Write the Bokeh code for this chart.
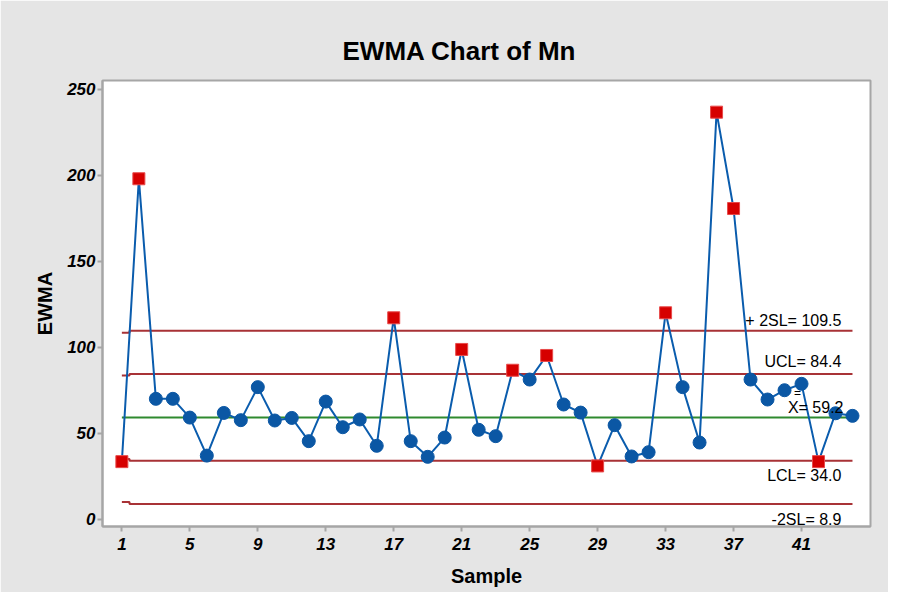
from bokeh.plotting import figure
from bokeh.models import FixedTicker, Label, Range1d
from bokeh.embed import file_html
from bokeh.resources import INLINE

# ---- data ----
samples = list(range(1, 45))
ewma = [33.5, 197.9, 70.0, 70.0, 59.1, 37.0, 61.8, 57.6, 76.8, 57.4,
        58.9, 45.4, 68.4, 53.5, 58.0, 42.7, 117.1, 45.4, 36.3, 47.5,
        98.7, 52.0, 48.3, 86.6, 81.2, 95.2, 66.7, 62.0, 31.0, 54.7,
        36.5, 39.0, 120.0, 76.8, 44.6, 236.6, 180.6, 81.2, 69.6, 75.0,
        78.7, 33.5, 61.6, 60.1]

center = 59.2
limit_names = ["+ 2SL", "UCL", "LCL", "-2SL"]
limit_values = [109.5, 84.4, 34.0, 8.9]
limit_first = [108.4, 83.5, 35.0, 10.0]   # limits at sample 1
x_ticks = [1, 5, 9, 13, 17, 21, 25, 29, 33, 37, 41]
y_ticks = [0, 50, 100, 150, 200, 250]

UCL, LCL = limit_values[1], limit_values[2]
UCL1, LCL1 = limit_first[1], limit_first[2]

ok_x, ok_y, bad_x, bad_y = [], [], [], []
for s, v in zip(samples, ewma):
    hi, lo = (UCL1, LCL1) if s == 1 else (UCL, LCL)
    if v > hi or v < lo:
        bad_x.append(s); bad_y.append(v)
    else:
        ok_x.append(s); ok_y.append(v)

FONT = "Liberation Sans"
BG = "#e5e5e5"
GRAY = "#a6a6a6"
BLUE = "#0a5cad"
RED_LINE = "#a83236"
GREEN = "#2f8a2f"

p = figure(width=888, height=592, output_backend="svg", toolbar_location=None,
           x_range=Range1d(-0.14, 45.06), y_range=Range1d(-4.2, 255),
           min_border_left=102, min_border_right=18, min_border_top=80,
           min_border_bottom=66)
p.background_fill_color = "white"
p.border_fill_color = BG
p.outline_line_color = GRAY
p.outline_line_width = 2
p.xgrid.visible = False
p.ygrid.visible = False

p.title.text = "EWMA Chart of Mn"
p.title.align = "left"
p.title.offset = 240
p.title.text_font = FONT
p.title.text_font_size = "26px"
p.title.text_font_style = "bold"
p.title.text_color = "black"
p.title.standoff = 30

for ax in (p.xaxis[0], p.yaxis[0]):
    ax.axis_line_color = GRAY
    ax.axis_line_width = 2
    ax.major_tick_line_color = GRAY
    ax.major_tick_line_width = 2
    ax.major_tick_out = 5
    ax.major_tick_in = 0
    ax.minor_tick_line_color = None
    ax.major_label_text_font = FONT
    ax.major_label_text_font_style = "bold italic"
    ax.major_label_text_font_size = "17px"
    ax.major_label_text_color = "black"
    ax.axis_label_text_font = FONT
    ax.axis_label_text_font_style = "bold"
    ax.axis_label_text_font_size = "20px"
    ax.axis_label_text_color = "black"

p.xaxis.ticker = FixedTicker(ticks=x_ticks)
p.yaxis.ticker = FixedTicker(ticks=y_ticks)
p.xaxis.axis_label = "Sample"
p.yaxis.axis_label = "EWMA"
p.xaxis.major_label_standoff = 6
p.xaxis.axis_label_standoff = 12
p.yaxis.major_label_standoff = 2
p.yaxis.axis_label_standoff = 8

x_first, x_step, x_last = samples[0], samples[0] + 0.45, samples[-1]
for v1, v in zip(limit_first, limit_values):
    p.line([x_first, x_step, x_step, x_last], [v1, v1, v, v],
           line_color=RED_LINE, line_width=2)
p.line([x_first, x_last], [center, center], line_color=GREEN, line_width=2)

p.line(samples, ewma, line_color=BLUE, line_width=2)
p.scatter(ok_x, ok_y, marker="circle", size=13, fill_color="#0b57a4",
          line_color="#0b57a4")
p.scatter(bad_x, bad_y, marker="square", size=12, fill_color="#d60000",
          line_color="#e84a4a", line_width=1)

label_offsets = [6.0, 7.3, -8.6, -9.0]
lx = 43.35
for name, v, off in zip(limit_names, limit_values, label_offsets):
    p.add_layout(Label(x=lx, y=v + off, text=f"{name}= {v:.1f}",
                       text_align="right", text_baseline="middle",
                       text_font=FONT, text_font_size="16px",
                       text_color="black"))
p.add_layout(Label(x=43.47, y=center + 5.9, text=f"X= {center:.1f}",
                   text_align="right", text_baseline="middle",
                   text_font=FONT, text_font_size="16px", text_color="black"))
p.add_layout(Label(x=40.76, y=center + 14.0, text="=",
                   text_align="center", text_baseline="middle",
                   text_font=FONT, text_font_size="12px", text_color="black"))

open("out.html", "w").write(file_html(p, INLINE))
